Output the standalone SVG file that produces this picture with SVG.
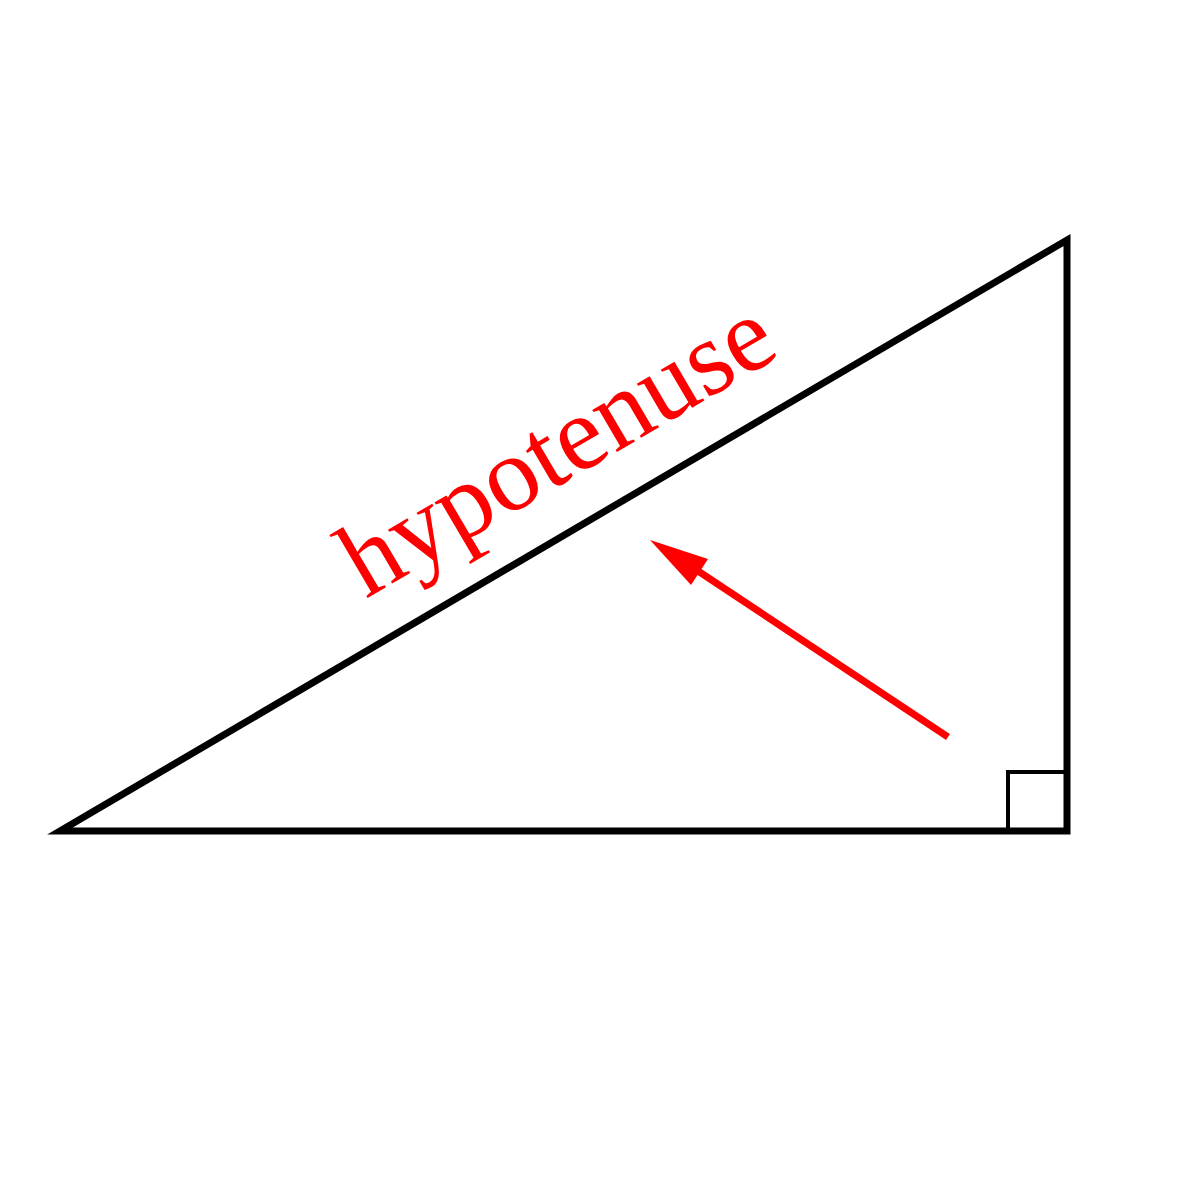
<svg xmlns="http://www.w3.org/2000/svg" width="1190" height="1190" viewBox="0 0 1190 1190">
<style>
.tri{fill:none;stroke:#000;stroke-width:7;stroke-miterlimit:10}
.sq{fill:none;stroke:#000;stroke-width:4}
.lbl{font-family:"Liberation Serif","Times New Roman",serif;font-size:106px;fill:#f00}
.arr{stroke:#f00;stroke-width:7;fill:none}
</style>
<rect width="1190" height="1190" fill="#fff"/>
<g id="triangle">
<polygon class="tri" points="60,831 1067,240 1067,831"/>
<rect class="sq" x="1008" y="772" width="59" height="59"/>
</g>
<g id="label">
<text class="lbl" text-anchor="middle" transform="translate(574,477) rotate(-30.37)">hypotenuse</text>
</g>
<g id="connectors">
<line class="arr" x1="948" y1="737" x2="695" y2="569"/>
<polygon fill="#f00" points="650,540 708,559 691,585"/>
</g>
</svg>
